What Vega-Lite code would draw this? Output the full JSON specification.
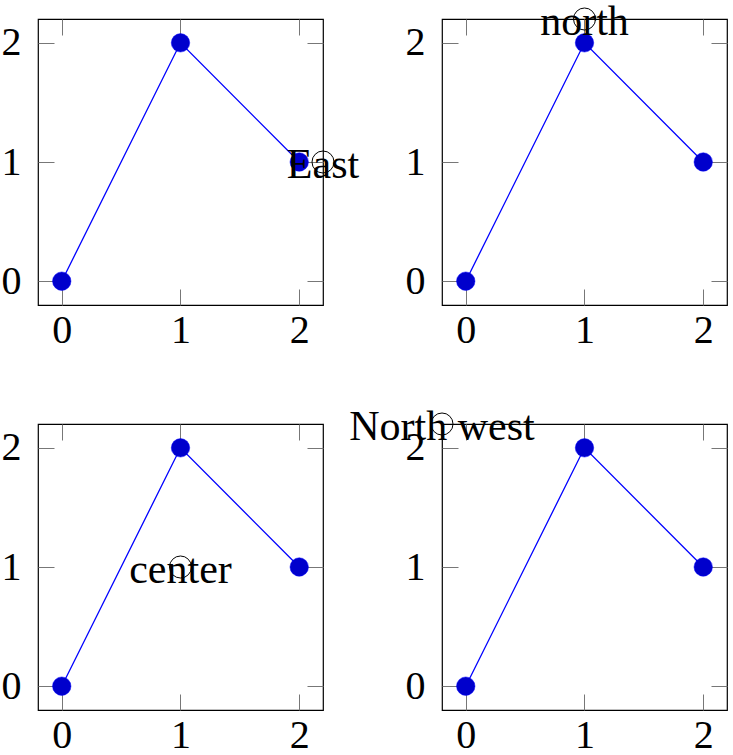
{
  "$schema": "https://vega.github.io/schema/vega-lite/v6.json",
  "padding": {"left": 0, "top": 0, "right": 5, "bottom": 0},
  "background": "white",
  "config": {
    "font": "Liberation Serif",
    "view": {"stroke": "black", "strokeWidth": 1.2},
    "axis": {
      "domain": false,
      "grid": false,
      "title": null,
      "labelFont": "Liberation Serif",
      "labelFontSize": 40,
      "labelColor": "black",
      "tickColor": "#777777",
      "tickWidth": 1,
      "tickSize": -16,
      "labelFlush": false,
      "labelOverlap": false
    },
    "axisBottom": {"labelPadding": 21},
    "axisLeft": {"labelPadding": 33}
  },
  "datasets": {
    "points": [
      {"x": 0, "y": 0},
      {"x": 1, "y": 2},
      {"x": 2, "y": 1}
    ],
    "notes": [
      {"panel": 1, "x": 2.2, "y": 1, "label": "East"},
      {"panel": 2, "x": 1, "y": 2.2, "label": "north"},
      {"panel": 3, "x": 1, "y": 1, "label": "center"},
      {"panel": 4, "x": -0.2, "y": 2.2, "label": "North west"}
    ]
  },
  "columns": 2,
  "bounds": "flush",
  "spacing": 119,
  "concat": [
    {
      "width": 285, "height": 286,
      "layer": [
        {"data": {"name": "points"}, "mark": {"type": "line", "color": "#0000ff", "strokeWidth": 1.3},
         "encoding": {
           "x": {"field": "x", "type": "quantitative", "scale": {"domain": [-0.2, 2.2], "nice": false, "zero": false}, "axis": {"orient": "bottom", "values": [0, 1, 2]}},
           "y": {"field": "y", "type": "quantitative", "scale": {"domain": [-0.2, 2.2], "nice": false, "zero": false}, "axis": {"orient": "left", "values": [0, 1, 2]}}}},
        {"data": {"name": "points"}, "mark": {"type": "point", "shape": "circle", "filled": true, "fill": "#0000cc", "stroke": "#0000ff", "strokeWidth": 0.5, "size": 340, "opacity": 1},
         "encoding": {
           "x": {"field": "x", "type": "quantitative", "axis": {"orient": "top", "labels": false, "values": [0, 1, 2]}},
           "y": {"field": "y", "type": "quantitative", "axis": {"orient": "right", "labels": false, "values": [0, 1, 2]}}}},
        {"data": {"name": "notes"}, "transform": [{"filter": "datum.panel == 1"}],
         "mark": {"type": "point", "shape": "circle", "filled": false, "stroke": "black", "strokeWidth": 1, "size": 484, "opacity": 1},
         "encoding": {"x": {"field": "x", "type": "quantitative", "axis": null}, "y": {"field": "y", "type": "quantitative", "axis": null}}},
        {"data": {"name": "notes"}, "transform": [{"filter": "datum.panel == 1"}],
         "mark": {"type": "text", "fontSize": 42, "color": "black", "align": "center", "baseline": "middle", "dy": 3},
         "encoding": {"x": {"field": "x", "type": "quantitative", "axis": null}, "y": {"field": "y", "type": "quantitative", "axis": null}, "text": {"field": "label"}}}
      ],
      "resolve": {"axis": {"x": "independent", "y": "independent"}}
    },
    {
      "width": 285, "height": 286,
      "layer": [
        {"data": {"name": "points"}, "mark": {"type": "line", "color": "#0000ff", "strokeWidth": 1.3},
         "encoding": {
           "x": {"field": "x", "type": "quantitative", "scale": {"domain": [-0.2, 2.2], "nice": false, "zero": false}, "axis": {"orient": "bottom", "values": [0, 1, 2]}},
           "y": {"field": "y", "type": "quantitative", "scale": {"domain": [-0.2, 2.2], "nice": false, "zero": false}, "axis": {"orient": "left", "values": [0, 1, 2]}}}},
        {"data": {"name": "points"}, "mark": {"type": "point", "shape": "circle", "filled": true, "fill": "#0000cc", "stroke": "#0000ff", "strokeWidth": 0.5, "size": 340, "opacity": 1},
         "encoding": {
           "x": {"field": "x", "type": "quantitative", "axis": {"orient": "top", "labels": false, "values": [0, 1, 2]}},
           "y": {"field": "y", "type": "quantitative", "axis": {"orient": "right", "labels": false, "values": [0, 1, 2]}}}},
        {"data": {"name": "notes"}, "transform": [{"filter": "datum.panel == 2"}],
         "mark": {"type": "point", "shape": "circle", "filled": false, "stroke": "black", "strokeWidth": 1, "size": 484, "opacity": 1},
         "encoding": {"x": {"field": "x", "type": "quantitative", "axis": null}, "y": {"field": "y", "type": "quantitative", "axis": null}}},
        {"data": {"name": "notes"}, "transform": [{"filter": "datum.panel == 2"}],
         "mark": {"type": "text", "fontSize": 42, "color": "black", "align": "center", "baseline": "middle", "dy": 3},
         "encoding": {"x": {"field": "x", "type": "quantitative", "axis": null}, "y": {"field": "y", "type": "quantitative", "axis": null}, "text": {"field": "label"}}}
      ],
      "resolve": {"axis": {"x": "independent", "y": "independent"}}
    },
    {
      "width": 285, "height": 286,
      "layer": [
        {"data": {"name": "points"}, "mark": {"type": "line", "color": "#0000ff", "strokeWidth": 1.3},
         "encoding": {
           "x": {"field": "x", "type": "quantitative", "scale": {"domain": [-0.2, 2.2], "nice": false, "zero": false}, "axis": {"orient": "bottom", "values": [0, 1, 2]}},
           "y": {"field": "y", "type": "quantitative", "scale": {"domain": [-0.2, 2.2], "nice": false, "zero": false}, "axis": {"orient": "left", "values": [0, 1, 2]}}}},
        {"data": {"name": "points"}, "mark": {"type": "point", "shape": "circle", "filled": true, "fill": "#0000cc", "stroke": "#0000ff", "strokeWidth": 0.5, "size": 340, "opacity": 1},
         "encoding": {
           "x": {"field": "x", "type": "quantitative", "axis": {"orient": "top", "labels": false, "values": [0, 1, 2]}},
           "y": {"field": "y", "type": "quantitative", "axis": {"orient": "right", "labels": false, "values": [0, 1, 2]}}}},
        {"data": {"name": "notes"}, "transform": [{"filter": "datum.panel == 3"}],
         "mark": {"type": "point", "shape": "circle", "filled": false, "stroke": "black", "strokeWidth": 1, "size": 484, "opacity": 1},
         "encoding": {"x": {"field": "x", "type": "quantitative", "axis": null}, "y": {"field": "y", "type": "quantitative", "axis": null}}},
        {"data": {"name": "notes"}, "transform": [{"filter": "datum.panel == 3"}],
         "mark": {"type": "text", "fontSize": 42, "color": "black", "align": "center", "baseline": "middle", "dy": 3},
         "encoding": {"x": {"field": "x", "type": "quantitative", "axis": null}, "y": {"field": "y", "type": "quantitative", "axis": null}, "text": {"field": "label"}}}
      ],
      "resolve": {"axis": {"x": "independent", "y": "independent"}}
    },
    {
      "width": 285, "height": 286,
      "layer": [
        {"data": {"name": "points"}, "mark": {"type": "line", "color": "#0000ff", "strokeWidth": 1.3},
         "encoding": {
           "x": {"field": "x", "type": "quantitative", "scale": {"domain": [-0.2, 2.2], "nice": false, "zero": false}, "axis": {"orient": "bottom", "values": [0, 1, 2]}},
           "y": {"field": "y", "type": "quantitative", "scale": {"domain": [-0.2, 2.2], "nice": false, "zero": false}, "axis": {"orient": "left", "values": [0, 1, 2]}}}},
        {"data": {"name": "points"}, "mark": {"type": "point", "shape": "circle", "filled": true, "fill": "#0000cc", "stroke": "#0000ff", "strokeWidth": 0.5, "size": 340, "opacity": 1},
         "encoding": {
           "x": {"field": "x", "type": "quantitative", "axis": {"orient": "top", "labels": false, "values": [0, 1, 2]}},
           "y": {"field": "y", "type": "quantitative", "axis": {"orient": "right", "labels": false, "values": [0, 1, 2]}}}},
        {"data": {"name": "notes"}, "transform": [{"filter": "datum.panel == 4"}],
         "mark": {"type": "point", "shape": "circle", "filled": false, "stroke": "black", "strokeWidth": 1, "size": 484, "opacity": 1},
         "encoding": {"x": {"field": "x", "type": "quantitative", "axis": null}, "y": {"field": "y", "type": "quantitative", "axis": null}}},
        {"data": {"name": "notes"}, "transform": [{"filter": "datum.panel == 4"}],
         "mark": {"type": "text", "fontSize": 42, "color": "black", "align": "center", "baseline": "middle", "dy": 3},
         "encoding": {"x": {"field": "x", "type": "quantitative", "axis": null}, "y": {"field": "y", "type": "quantitative", "axis": null}, "text": {"field": "label"}}}
      ],
      "resolve": {"axis": {"x": "independent", "y": "independent"}}
    }
  ]
}
